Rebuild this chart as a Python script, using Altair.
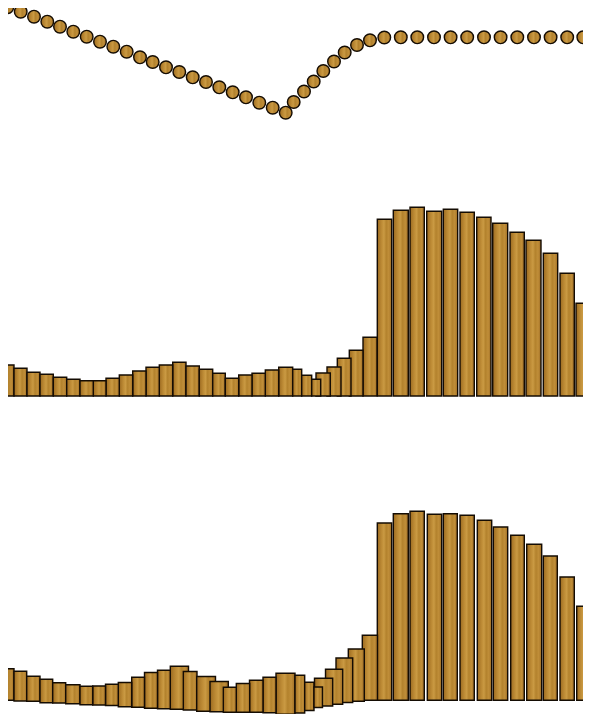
import altair as alt
import pandas as pd

# ---------------- data ----------------
# top panel: dot positions along the x axis and their level
dot_x = [7.3, 20.7, 34, 47.3, 60, 73.3, 86.7, 100, 113.3, 126.7, 140, 152.7, 166,
         179.3, 192.7, 206, 219.3, 232.7, 246, 259.3, 272.7, 285.7, 293.7, 304,
         313.7, 323.3, 334, 344.7, 357, 370, 384.3, 400.8, 417.3, 434, 450.6,
         467.2, 484, 500.6, 517.3, 534, 550.6, 567.2, 583.3]
dot_v = [112.7, 108.3, 103.3, 98.3, 93.3, 88.3, 83.3, 78.3, 73.3, 68.3, 62.7, 58,
         52.7, 48, 42.7, 38, 32.7, 27.7, 22.7, 17.3, 12.3, 7.3, 18, 28.5, 38.5,
         49, 58.5, 67.5, 75, 79.7, 82.5, 82.7, 82.7, 82.7, 82.7, 82.7, 82.7,
         82.7, 82.7, 82.7, 82.7, 82.7, 82.7]

# middle panel: bar extents along x and bar heights
mid_left = [0, 14, 27, 40, 53.3, 66.7, 80, 93.3, 106, 119.3, 132.7, 146, 159.3,
            172.7, 186, 199.3, 212.7, 225.3, 238.7, 252, 265.3, 278.7, 292.7,
            301.7, 311.7, 316, 327, 337.3, 349.3, 363, 377.3, 393.3, 410, 426.7,
            443.3, 460, 476.7, 492.7, 510, 526, 543.3, 560, 576]
mid_right = [14, 27, 40, 53.3, 66.7, 80, 93.3, 106, 119.3, 132.7, 146, 159.3,
             172.7, 186, 199.3, 212.7, 225.3, 238.7, 252, 265.3, 278.7, 292.7,
             301.7, 311.7, 320.7, 330.3, 341, 351, 363, 377, 391.7, 408.3, 424.3,
             441.7, 457.7, 474.3, 491, 507.7, 524.3, 541, 557.7, 574.3, 590]
mid_h = [31, 27.7, 23.7, 21.7, 18.7, 16.7, 15.3, 15.3, 17.7, 21, 25, 28.7, 31,
         33.7, 30, 26.7, 22.7, 17.7, 21, 22.7, 26, 28.7, 26.7, 20.7, 16.7, 23,
         29, 37.7, 45.7, 58.7, 176.7, 185.7, 188.7, 184.7, 186.7, 183.7, 178.7,
         172.7, 163.7, 155.7, 142.7, 122.7, 92.7]

# bottom panel: bar extents along x, bar top and bar bottom levels
bot_left = [0, 14, 26.7, 40, 52.7, 65.7, 80, 92.7, 105.5, 118.3, 131.7, 144.5,
            157.5, 170.3, 183.3, 196.7, 210, 223.3, 236.3, 249.5, 263, 276, 295,
            304.7, 314, 314.5, 325.5, 336, 348.3, 362.3, 377.3, 393.3, 410, 427.3,
            443.3, 460, 477.3, 493.3, 510.7, 526.7, 543.3, 560, 576.7]
bot_right = [14, 26.7, 40, 52.7, 65.7, 80, 92.7, 105.5, 118.3, 131.7, 144.5,
             157.5, 170.3, 188.5, 197, 215.5, 228.3, 236.3, 249.7, 263, 276, 295,
             304.7, 314, 322.5, 332.7, 342.7, 352.7, 364.3, 377.5, 391.7, 408.3,
             424.3, 441.7, 457.3, 474.3, 491.7, 507.7, 524.3, 541.7, 557.3, 574.3,
             590]
bot_top = [46.3, 43.7, 38.7, 35.7, 32.3, 30.3, 28.7, 29, 30.8, 32.5, 37.7, 42.5,
           44.7, 48.7, 43.5, 38.5, 33.5, 27.7, 31.5, 34.7, 37.7, 41.7, 39.7, 32.7,
           28, 36.7, 45.7, 57, 66, 79.7, 192, 201.3, 203.7, 200.7, 201.3, 199.7,
           194.7, 188, 179.7, 170.7, 159, 138, 108.7]
bot_base = [14.7, 14, 13.7, 12.3, 12, 11.3, 10.3, 10, 9.5, 8.3, 7.8, 6.8, 6.3,
            5.8, 5, 3.8, 3.2, 2.8, 2.8, 2.7, 2.3, 0.7, 2, 4.5, 7.5, 9, 10.7, 12.5,
            13.7, 14.7, 14.7, 14.7, 14.7, 14.7, 14.7, 14.7, 14.7, 14.7, 14.7,
            14.7, 14.7, 14.7, 14.7]

# ---------------- tables ----------------
dots = pd.DataFrame({"x": dot_x, "v": dot_v})

mid = pd.DataFrame({"l": mid_left, "r": mid_right, "h": mid_h})
mid["b"] = 0
mid = mid.sort_values("h", ascending=False)

bot = pd.DataFrame({"l": bot_left, "r": bot_right, "t": bot_top, "b": bot_base})
bot["size"] = bot["t"] - bot["b"]
bot = bot.sort_values("size", ascending=False)

# ---------------- styling ----------------
W = 575
wood = alt.LinearGradient(
    gradient="linear",
    stops=[
        alt.GradientStop(offset=0.0, color="#986720"),
        alt.GradientStop(offset=0.14, color="#AC7A2A"),
        alt.GradientStop(offset=0.32, color="#BF8D37"),
        alt.GradientStop(offset=0.46, color="#CA9A43"),
        alt.GradientStop(offset=0.62, color="#B3822D"),
        alt.GradientStop(offset=0.8, color="#C08E39"),
        alt.GradientStop(offset=1.0, color="#9E6C24"),
    ],
    x1=0, x2=1, y1=0, y2=0,
)
edge = "#140C03"

xscale = alt.Scale(domain=[8, 583], zero=False, nice=False)

top = alt.Chart(dots).mark_point(
    shape="circle", filled=True, fill=wood, stroke=edge, strokeWidth=1.4,
    size=158, opacity=1, clip=True,
).encode(
    x=alt.X("x:Q", scale=xscale, axis=None),
    y=alt.Y("v:Q", scale=alt.Scale(domain=[-80, 112], zero=False, nice=False), axis=None),
).properties(width=W, height=192)

middle = alt.Chart(mid).mark_bar(
    fill=wood, stroke=edge, strokeWidth=1.4, clip=True,
).encode(
    x=alt.X("l:Q", scale=xscale, axis=None),
    x2="r:Q",
    y=alt.Y("h:Q", scale=alt.Scale(domain=[-4, 196], zero=False, nice=False), axis=None),
    y2="b:Q",
).properties(width=W, height=200)

bottom = alt.Chart(bot).mark_bar(
    fill=wood, stroke=edge, strokeWidth=1.4, clip=True,
).encode(
    x=alt.X("l:Q", scale=xscale, axis=None),
    x2="r:Q",
    y=alt.Y("t:Q", scale=alt.Scale(domain=[1, 315], zero=False, nice=False), axis=None),
    y2="b:Q",
).properties(width=W, height=314)

chart = alt.vconcat(top, middle, bottom, spacing=0).properties(
    padding=0, background="white"
).configure_view(strokeWidth=0)

chart.save("out.html", embed_options={"renderer": "svg", "actions": False})
